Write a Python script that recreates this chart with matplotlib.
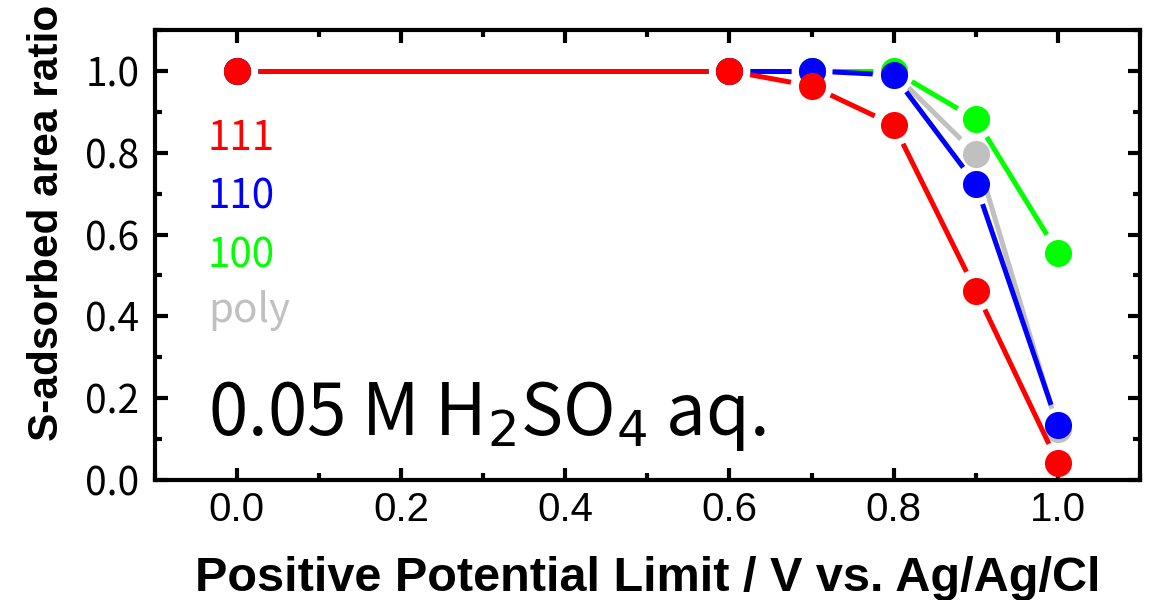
import matplotlib
matplotlib.use("Agg")
import matplotlib.pyplot as plt
import numpy as np
from matplotlib.ticker import MultipleLocator

# potential limits (V vs. Ag/AgCl) and S-adsorbed area ratio per facet
potential = [0.0, 0.6, 0.7, 0.8, 0.9, 1.0]
ratio_111 = [1.0, 1.0, 0.963, 0.868, 0.463, 0.042]
ratio_110 = [1.0, 1.0, 1.0, 0.99, 0.723, 0.135]
ratio_100 = [1.0, 1.0, 1.0, 1.0, 0.882, 0.556]
ratio_poly = [1.0, 1.0, 1.0, 0.995, 0.797, 0.125]

series = [
    ("poly", ratio_poly, "#c0c0c0"),
    ("100", ratio_100, "#00ff00"),
    ("110", ratio_110, "#0000ff"),
    ("111", ratio_111, "#ff0000"),
]
labels_order = ["111", "110", "100", "poly"]

plt.rcParams["font.family"] = ["Noto Sans CJK JP", "DejaVu Sans"]

fig = plt.figure(figsize=(11.55, 6), dpi=100)
ax = fig.add_axes([0.134, 0.2, 0.853, 0.75])
ax.set_xlim(-0.1, 1.1)
ax.set_ylim(0.0, 1.1)


def plot_gapped(ax, xs, ys, color, z, gap=21):
    # line segments stop short of the symbols, symbols drawn on top
    tr = ax.transData
    pts = tr.transform(np.column_stack([xs, ys]))
    for p0, p1 in zip(pts[:-1], pts[1:]):
        d = p1 - p0
        L = np.hypot(d[0], d[1])
        if L <= 2 * gap:
            continue
        u = d / L
        seg = tr.inverted().transform(np.array([p0 + u * gap, p1 - u * gap]))
        ax.plot(seg[:, 0], seg[:, 1], color=color, lw=3.6,
                solid_capstyle="butt", zorder=z)
    ax.plot(xs, ys, ls="none", marker="o", ms=19.5, mew=0, color=color,
            zorder=z + 0.5, clip_on=False)


for i, (name, vals, col) in enumerate(series):
    plot_gapped(ax, potential, vals, col, 3 + i)

colors = {n: c for n, _, c in series}
label_y = [0.733, 0.604, 0.473, 0.351]
for name, yy in zip(labels_order, label_y):
    ax.text(0.054, yy, name, transform=ax.transAxes,
            color=colors[name], fontsize=29, va="baseline", ha="left")

ax.text(0.054, 0.10, r"0.05 M H$_2$SO$_4$ aq.", transform=ax.transAxes,
        fontsize=51, va="baseline", ha="left")

ax.xaxis.set_major_locator(MultipleLocator(0.2))
ax.xaxis.set_minor_locator(MultipleLocator(0.1))
ax.yaxis.set_major_locator(MultipleLocator(0.2))
ax.yaxis.set_minor_locator(MultipleLocator(0.1))
ax.xaxis.set_major_formatter(lambda v, p: f"{v:.1f}")
ax.yaxis.set_major_formatter(lambda v, p: f"{v:.1f}")

ax.tick_params(which="both", direction="in", top=True, right=True, width=3)
ax.tick_params(which="major", length=9)
ax.tick_params(which="minor", length=5)
ax.tick_params(axis="y", labelsize=28, pad=11)
ax.tick_params(axis="x", labelsize=29, pad=8)
for lab in ax.get_xticklabels():
    lab.set_family("Liberation Sans")
for s in ax.spines.values():
    s.set_linewidth(3)

ax.set_xlabel("Positive Potential Limit / V vs. Ag/Ag/Cl",
              fontsize=35, fontweight="bold", family="Liberation Sans")
ax.xaxis.set_label_coords(0.5, -0.168)
ax.set_ylabel("S-adsorbed area ratio", fontsize=30.5, fontweight="bold",
              family="Liberation Sans")
ax.yaxis.set_label_coords(-0.089, 0.572)

fig.savefig("out.png", dpi=100)
